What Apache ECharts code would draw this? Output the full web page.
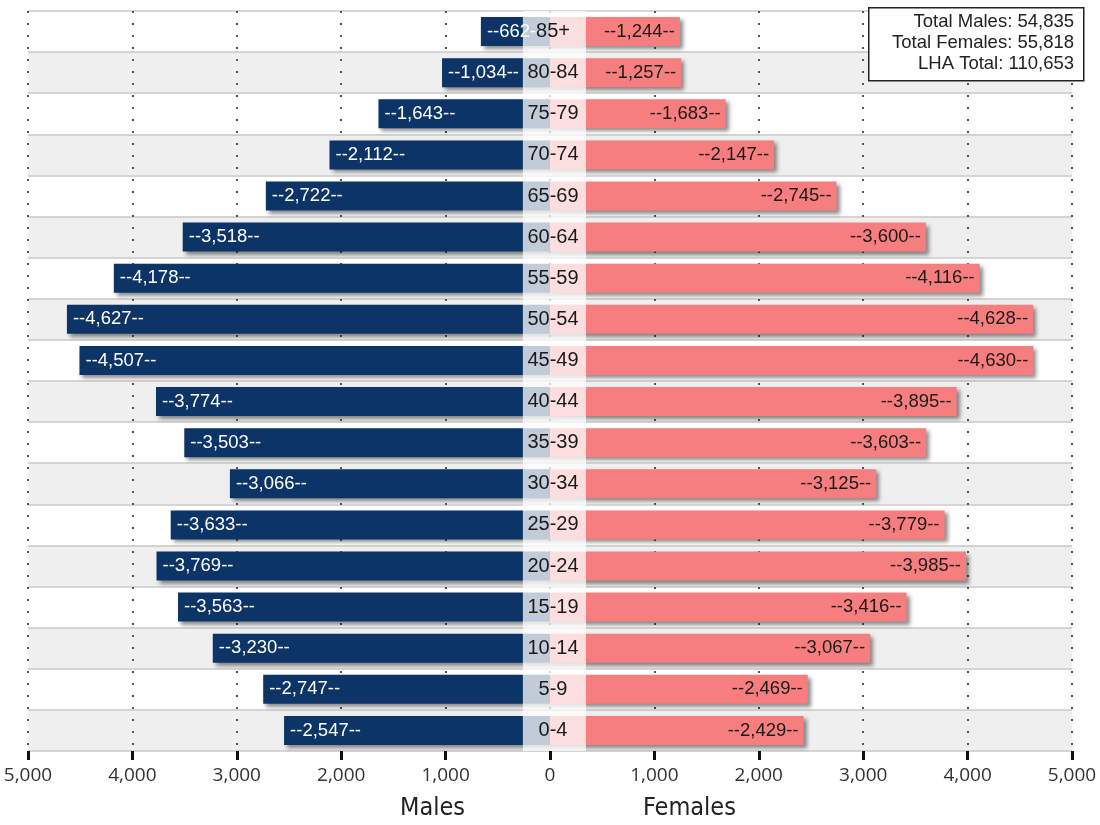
<!DOCTYPE html>
<html>
<head>
<meta charset="utf-8">
<script src="https://cdn.jsdelivr.net/npm/echarts@6/dist/echarts.min.js"></script>
<style>
html,body{margin:0;padding:0;background:#fff;}
#pyramid{width:1100px;height:825px;}
</style>
</head>
<body>
<div id="pyramid"></div>
<script>
var myChart = echarts.init(document.getElementById('pyramid'));

// age groups, top to bottom
var ageGroups = ['85+','80-84','75-79','70-74','65-69','60-64','55-59','50-54','45-49',
    '40-44','35-39','30-34','25-29','20-24','15-19','10-14','5-9','0-4'];
var males = [662,1034,1643,2112,2722,3518,4178,4627,4507,3774,3503,3066,3633,3769,3563,3230,2747,2547];
var females = [1244,1257,1683,2147,2745,3600,4116,4628,4630,3895,3603,3125,3779,3985,3416,3067,2469,2429];
var totalLabels = ['Total Males', 'Total Females', 'LHA Total'];
var totalValues = [54835, 55818, 110653];
var centerBand = [-260, 345];//浅色的中间区域

function fmt(v) {
    return Math.abs(v).toLocaleString('en-US');
}

var barShadow = {
    shadowColor: 'rgba(0,0,0,0.45)',
    shadowBlur: 4,
    shadowOffsetX: 3,
    shadowOffsetY: 3
};

// 右上角的合计框
var boxGraphics = [{
    type: 'rect',
    left: 868,
    top: 7,
    z: 20,
    shape: {width: 215, height: 73},
    style: {fill: '#fff', stroke: '#222', lineWidth: 1.5}
}];
totalLabels.forEach(function (t, i) {
    boxGraphics.push({
        type: 'text',
        right: 26,
        top: 12 + i * 21,
        z: 21,
        style: {
            text: t + ': ' + fmt(totalValues[i]),
            fill: '#222',
            font: '18.5px "Liberation Sans"'
        }
    });
});

var option = {
    animation: false,
    grid: {left: 28, right: 28, top: 11, bottom: 74},
    xAxis: {
        type: 'value',
        min: -5000,
        max: 5000,
        interval: 1000,
        axisLine: {onZero: false, lineStyle: {color: '#111', width: 2.5}},
        axisTick: {show: true, length: 9, lineStyle: {color: '#111', width: 3}},
        axisLabel: {
            margin: 15,
            color: '#333',
            fontSize: 19,
            fontFamily: 'Open Sans',
            formatter: function (v) { return fmt(v); }
        },
        splitLine: {show: true, lineStyle: {color: '#555', type: [2, 10], width: 2}}
    },
    yAxis: [{
        type: 'category',
        data: ageGroups,
        inverse: true,
        axisLine: {show: false, onZero: false},
        axisTick: {show: false},
        axisLabel: {show: false},
        splitLine: {show: true, lineStyle: {color: '#c8c8c8', width: 1.5}},
        splitArea: {show: true, areaStyle: {color: ['#ffffff', '#efefef']}}
    }, {
        type: 'category',
        data: ageGroups,
        inverse: true,
        z: 10,
        position: 'left',
        offset: -521,
        axisLine: {show: false, onZero: false},
        axisTick: {show: false},
        splitLine: {show: false},
        axisLabel: {
            align: 'center',
            margin: -4,
            color: '#1a1a1a',
            fontSize: 20,
            fontFamily: 'Liberation Sans'
        }
    }],
    series: [{
        name: 'Males',
        type: 'bar',
        stack: 'pop',
        barWidth: 29,
        data: males.map(function (v) { return -v; }),
        itemStyle: Object.assign({color: '#0c3466'}, barShadow),
        label: {
            show: true,
            position: 'insideLeft',
            distance: 6,
            color: '#fff',
            fontSize: 18.5,
            fontFamily: 'Liberation Sans',
            formatter: function (p) { return '--' + fmt(p.value) + '--'; }
        },
        markArea: {
            silent: true,
            z: 5,
            itemStyle: {color: 'rgba(255,255,255,0.75)'},
            data: [[{xAxis: centerBand[0]}, {xAxis: centerBand[1]}]]
        }
    }, {
        name: 'Females',
        type: 'bar',
        stack: 'pop',
        barWidth: 29,
        data: females,
        itemStyle: Object.assign({color: '#f77e7e'}, barShadow),
        label: {
            show: true,
            position: 'insideRight',
            distance: 5,
            color: '#1a1a1a',
            fontSize: 18.5,
            fontFamily: 'Liberation Sans',
            formatter: function (p) { return '--' + fmt(p.value) + '--'; }
        }
    }],
    graphic: boxGraphics.concat([{
        type: 'text',
        left: 400,
        top: 796,
        z: 20,
        style: {text: 'Males', fill: '#222', font: '25px "Liberation Sans Narrow", "DejaVu Sans Condensed"'}
    }, {
        type: 'text',
        left: 643,
        top: 796,
        z: 20,
        style: {text: 'Females', fill: '#222', font: '25px "Liberation Sans Narrow", "DejaVu Sans Condensed"'}
    }])
};

myChart.setOption(option);
window.addEventListener('resize', function () {myChart.resize();});
</script>
</body>
</html>
